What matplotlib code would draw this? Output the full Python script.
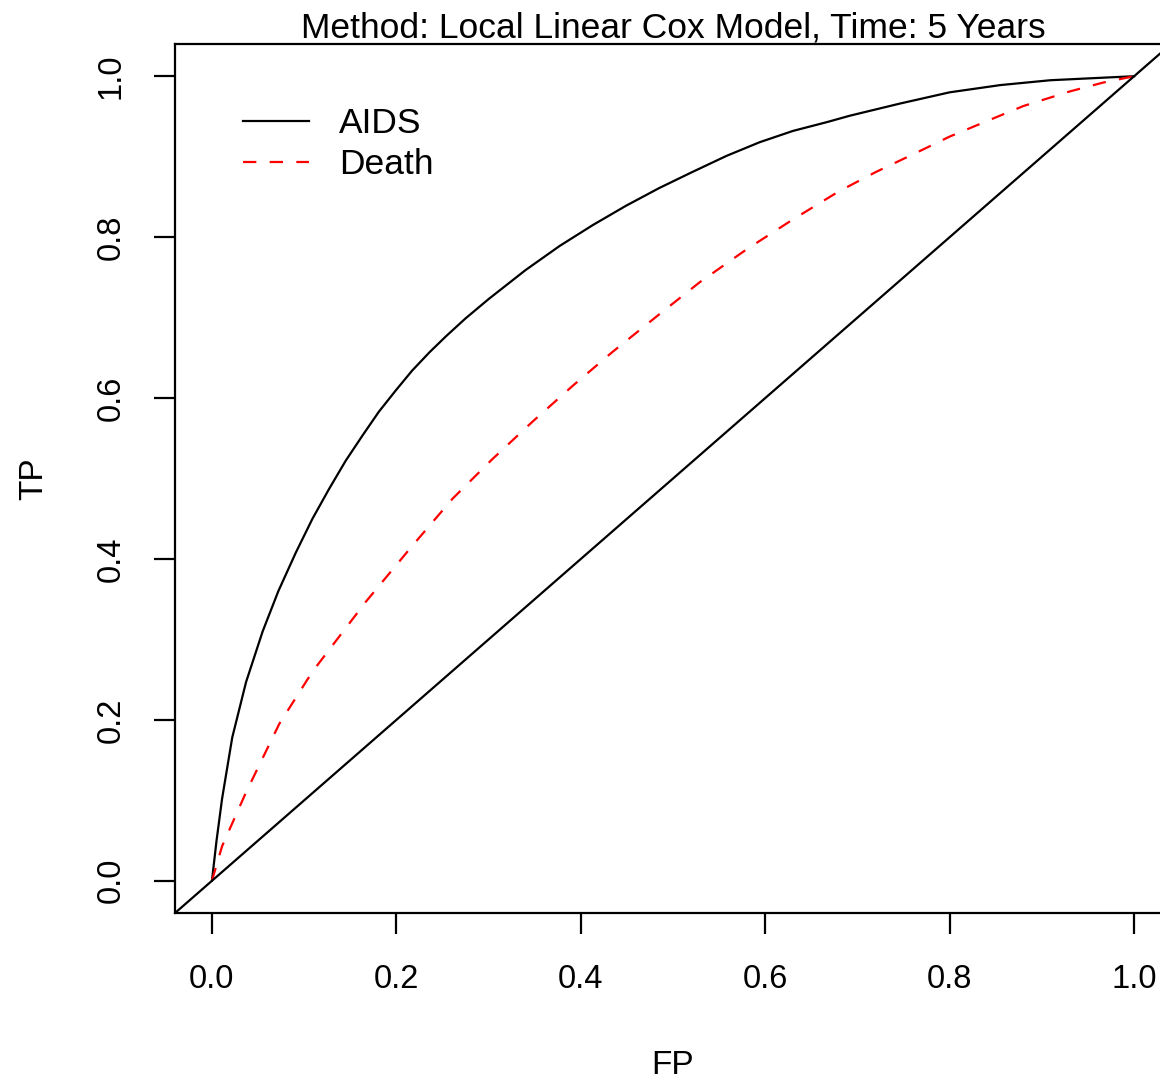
import matplotlib

matplotlib.use("Agg")
import matplotlib.pyplot as plt

plt.rcParams["font.family"] = ["Liberation Sans", "DejaVu Sans"]

# ROC curves at 5 years (false positive rate vs true positive rate)
aids_fp = [0.0, 0.005, 0.011, 0.022, 0.037, 0.055, 0.072, 0.091, 0.109,
           0.127, 0.145, 0.163, 0.181, 0.199, 0.217, 0.236, 0.254, 0.275,
           0.30, 0.34, 0.377, 0.413, 0.449, 0.485, 0.521, 0.558, 0.594,
           0.63, 0.667, 0.692, 0.746, 0.80, 0.855, 0.909, 0.963, 1.0]
aids_tp = [0.0, 0.05, 0.102, 0.178, 0.247, 0.31, 0.36, 0.408, 0.45,
           0.487, 0.522, 0.553, 0.583, 0.609, 0.634, 0.657, 0.677, 0.699,
           0.723, 0.759, 0.789, 0.815, 0.839, 0.861, 0.881, 0.901, 0.918,
           0.932, 0.943, 0.951, 0.966, 0.980, 0.989, 0.995, 0.998, 1.0]

death_fp = [0.0, 0.011, 0.037, 0.073, 0.109, 0.167, 0.217, 0.261, 0.304,
            0.347, 0.391, 0.434, 0.485, 0.529, 0.58, 0.63, 0.68, 0.72,
            0.764, 0.80, 0.844, 0.88, 0.93, 0.966, 1.0]
death_tp = [0.0, 0.043, 0.11, 0.195, 0.26, 0.347, 0.416, 0.475, 0.524,
            0.570, 0.615, 0.657, 0.704, 0.744, 0.785, 0.822, 0.857, 0.881,
            0.905, 0.925, 0.946, 0.963, 0.981, 0.992, 1.0]

ticks = [0.0, 0.2, 0.4, 0.6, 0.8, 1.0]
tick_labels = ["0.0", "0.2", "0.4", "0.6", "0.8", "1.0"]

lw = 1.6

fig = plt.figure(figsize=(11.6, 10.82), dpi=100)
ax = fig.add_axes([0.1509, 0.1562, 0.8586, 0.8031])

ax.plot(aids_fp, aids_tp, color="black", lw=lw, label="AIDS")
ax.plot(death_fp, death_tp, color="red", lw=lw, dashes=(6.0, 6.0), label="Death")
ax.axline((0, 0), (1, 1), color="black", lw=lw)

ax.set_xlim(-0.04, 1.04)
ax.set_ylim(-0.04, 1.04)
ax.set_xticks(ticks)
ax.set_xticklabels(tick_labels)
ax.set_yticks(ticks)
ax.set_yticklabels(tick_labels, rotation=90, va="center")
ax.tick_params(axis="both", labelsize=23.5, length=15, width=lw, direction="out")
ax.tick_params(axis="x", pad=22)
ax.tick_params(axis="y", pad=20)
for sp in ax.spines.values():
    sp.set_linewidth(lw)

ax.set_xlabel("FP", fontsize=24, labelpad=39)
ax.set_ylabel("TP", fontsize=24, labelpad=33)
ax.set_title("Method: Local Linear Cox Model, Time: 5 Years", fontsize=25.5, pad=2)

ax.legend(loc="upper left", bbox_to_anchor=(0.068, 0.9275), frameon=False,
          fontsize=25.5, borderpad=0, borderaxespad=0, handlelength=1.86,
          handletextpad=0.86, labelspacing=0.23)

fig.savefig("out.png", dpi=100)
